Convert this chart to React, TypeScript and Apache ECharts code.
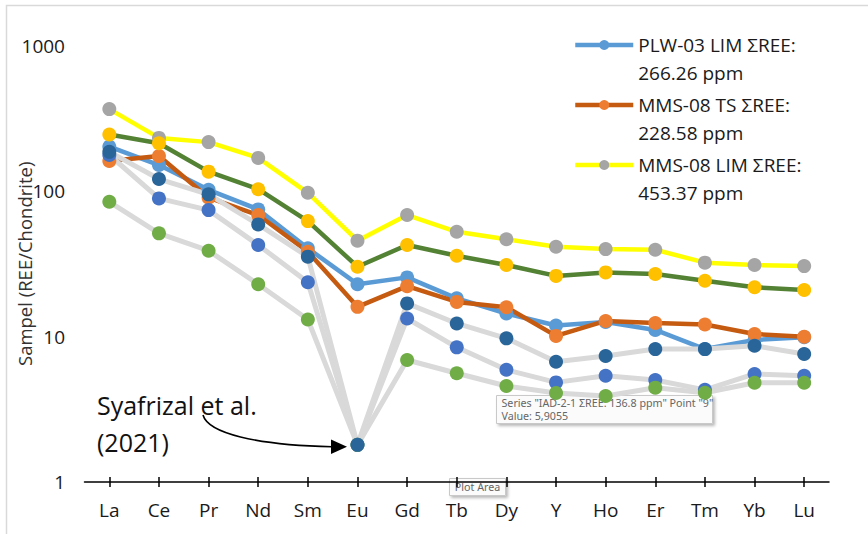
import React, { useEffect, useRef } from "react";
import * as echarts from "echarts";

// Rare earth elements on the x axis (chondrite-normalised plot)
const elements = ["La", "Ce", "Pr", "Nd", "Sm", "Eu", "Gd", "Tb", "Dy", "Y", "Ho", "Er", "Tm", "Yb", "Lu"];

// Log-scale tick values shown on the y axis
const yTicks = [1, 10, 100, 1000];

// Sample / chondrite ratios
const plw03Lim = [202, 151, 102, 74.8, 40.4, 22.9, 25.5, 18.3, 14.4, 11.9, 12.6, 11.1, 8.2, 9.46, 9.9];
const mms08Ts = [161, 174, 90, 68.4, 38.3, 16.0, 22.2, 17.3, 15.9, 10.1, 12.8, 12.4, 12.1, 10.4, 9.97];
const mms08Lim = [366, 232, 217, 169, 97.3, 45.6, 68.4, 52.5, 46.6, 41.4, 39.9, 39.5, 32.2, 31.0, 30.5];
const sampleFour = [245, 213, 136, 103, 62.2, 30.2, 42.6, 35.9, 31.0, 26.1, 27.6, 26.9, 24.2, 21.8, 20.9];

// Reference samples (Syafrizal et al., 2021)
const iad21 = [177, 89, 74, 42.6, 23.6, 1.8, 13.3, 8.43, 5.9055, 4.84, 5.38, 5.02, 4.3, 5.53, 5.38];
const syafrizalB = [84.4, 51.2, 38.9, 22.9, 13.1, 1.8, 6.9, 5.59, 4.57, 4.09, 3.9, 4.45, 4.11, 4.81, 4.81];
const syafrizalA = [186, 121, 94.9, 59, 35.4, 1.8, 16.9, 12.3, 9.72, 6.71, 7.35, 8.2, 8.2, 8.65, 7.58];

const seriesNames = [
  "PLW-03 LIM ΣREE: 266.26 ppm",
  "MMS-08 TS ΣREE: 228.58 ppm",
  "MMS-08 LIM ΣREE: 453.37 ppm",
  "Sample 4",
  "IAD-2-1 ΣREE: 136.8 ppm",
  "Syafrizal et al. (2021) B",
  "Syafrizal et al. (2021) A",
];

const FONT = "'Open Sans', 'Noto Sans', sans-serif";
const TIP_FONT = "10.7px 'Noto Sans', sans-serif";

export default function App() {
  const ref = useRef<HTMLDivElement>(null);

  useEffect(() => {
    if (!ref.current) return;
    const chart = echarts.init(ref.current, undefined, { renderer: "svg" });

    const mkSeries = (
      name: string,
      data: number[],
      lineColor: string,
      markerColor: string,
      width: number
    ) => ({
      type: "line",
      name,
      data,
      symbol: "circle",
      symbolSize: 14,
      showSymbol: true,
      lineStyle: { color: lineColor, width },
      itemStyle: { color: markerColor, borderWidth: 0 },
      emphasis: { disabled: true },
    });

    // One legend per entry; a leading blank line keeps the icon level with the first text line
    const legendFor = (name: string, iconY: number) => ({
      data: [name],
      orient: "vertical",
      left: 573,
      top: iconY - 42,
      padding: 0,
      itemWidth: 58,
      itemHeight: 12.5,
      selectedMode: false,
      lineStyle: { width: 4.5 },
      formatter: (n: string) => "\n" + n.replace(": ", ":\n"),
      textStyle: {
        fontFamily: FONT,
        fontSize: 19,
        lineHeight: 28,
        color: "#1a1a1a",
      },
    });

    const tipText = 'Series "IAD-2-1 ΣREE: 136.8 ppm" Point "9"\nValue: 5,9055';

    chart.setOption({
      animation: false,
      backgroundColor: "#ffffff",
      grid: {
        left: 84.5,
        right: 39,
        top: 45.6,
        bottom: 52,
        containLabel: false,
        outerBoundsMode: "none",
      },
      legend: [
        legendFor(seriesNames[0], 45),
        legendFor(seriesNames[1], 105),
        legendFor(seriesNames[2], 165),
      ],
      xAxis: [
        {
          type: "category",
          position: "bottom",
          data: elements,
          boundaryGap: true,
          axisLine: { show: true, lineStyle: { color: "#000", width: 1.5 } },
          axisTick: { show: true, alignWithLabel: true, length: 5, inside: false, lineStyle: { color: "#000", width: 1.5 } },
          axisLabel: { fontFamily: FONT, fontSize: 19, color: "#1a1a1a", margin: 18 },
          splitLine: { show: false },
        },
        {
          type: "category",
          position: "bottom",
          data: elements,
          boundaryGap: true,
          axisLine: { show: false },
          axisTick: { show: true, alignWithLabel: true, length: 5, inside: true, lineStyle: { color: "#000", width: 1.5 } },
          axisLabel: { show: false },
          splitLine: { show: false },
        },
      ],
      yAxis: {
        type: "log",
        logBase: 10,
        min: yTicks[0],
        max: yTicks[yTicks.length - 1],
        name: "Sampel (REE/Chondrite)",
        nameLocation: "middle",
        nameRotate: 90,
        nameGap: 51,
        nameMoveOverlap: false,
        nameTextStyle: { fontFamily: FONT, fontSize: 18.5, color: "#333" },
        axisLine: { show: false },
        axisTick: { show: false },
        splitLine: { show: false },
        axisLabel: {
          fontFamily: FONT,
          fontSize: 19,
          color: "#1a1a1a",
          margin: 19.5,
          formatter: (v: number) => String(v),
        },
      },
      series: [
        mkSeries(seriesNames[0], plw03Lim, "#5B9BD5", "#5B9BD5", 4.5),
        mkSeries(seriesNames[1], mms08Ts, "#C55A11", "#ED7D31", 4.5),
        mkSeries(seriesNames[2], mms08Lim, "#FFFF00", "#A5A5A5", 4.5),
        mkSeries(seriesNames[3], sampleFour, "#548235", "#FFC000", 4.5),
        mkSeries(seriesNames[4], iad21, "#D9D9D9", "#4472C4", 5),
        mkSeries(seriesNames[5], syafrizalB, "#D9D9D9", "#70AD47", 5),
        mkSeries(seriesNames[6], syafrizalA, "#D9D9D9", "#2A6599", 5),
      ],
      graphic: [
        // outer chart frame
        {
          type: "rect",
          shape: { x: 6.5, y: 5.5, width: 900, height: 600 },
          style: { fill: "none", stroke: "#d9d9d9", lineWidth: 1.5 },
          silent: true,
        },
        // source annotation
        {
          type: "text",
          left: 97,
          top: 386,
          style: {
            text: "Syafrizal et al.\n(2021)",
            font: `25px ${FONT}`,
            lineHeight: 37,
            fill: "#111",
          },
        },
        {
          type: "bezierCurve",
          shape: { x1: 203, y1: 415, cpx1: 208, cpy1: 433, cpx2: 255, cpy2: 445, x2: 332, y2: 446.8 },
          style: { stroke: "#000", lineWidth: 1.6, fill: "none" },
        },
        {
          type: "polygon",
          shape: { points: [[331, 439.5], [347, 446.7], [331, 454]] },
          style: { fill: "#000" },
        },
        // hover box for the IAD-2-1 point
        {
          type: "group",
          left: 496,
          top: 395,
          children: [
            {
              type: "rect",
              shape: { x: 0, y: 0, width: 216, height: 28 },
              style: {
                fill: "#fbfbfb",
                stroke: "#c9c9c9",
                lineWidth: 1,
                shadowBlur: 3,
                shadowOffsetX: 2,
                shadowOffsetY: 2,
                shadowColor: "rgba(0,0,0,0.28)",
              },
            },
            {
              type: "text",
              x: 5,
              y: 1,
              style: { text: tipText, font: TIP_FONT, lineHeight: 13, fill: "#666" },
            },
          ],
        },
        {
          type: "group",
          left: 449,
          top: 478,
          children: [
            {
              type: "rect",
              shape: { x: 0, y: 0, width: 56, height: 17 },
              style: {
                fill: "#fbfbfb",
                stroke: "#c9c9c9",
                lineWidth: 1,
                shadowBlur: 3,
                shadowOffsetX: 2,
                shadowOffsetY: 2,
                shadowColor: "rgba(0,0,0,0.28)",
              },
            },
            {
              type: "text",
              x: 28,
              y: 8.7,
              style: { text: "Plot Area", font: TIP_FONT, fill: "#666", align: "center", verticalAlign: "middle" },
            },
          ],
        },
      ],
    });

    return () => chart.dispose();
  }, []);

  return (
    <div
      ref={ref}
      style={{ position: "fixed", left: 0, top: 0, width: 868, height: 534, background: "#fff" }}
    />
  );
}
